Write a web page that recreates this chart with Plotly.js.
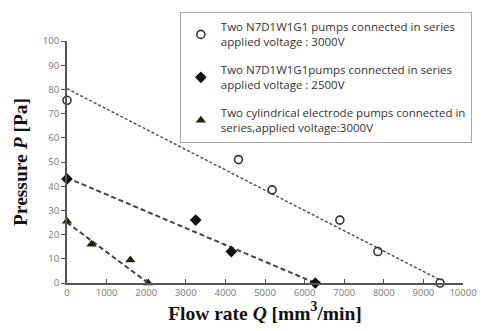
<!DOCTYPE html>
<html>
<head>
<meta charset="utf-8">
<script src="https://cdn.plot.ly/plotly-3.0.1.min.js"></script>
<style>html,body{margin:0;padding:0;background:#fff}#chart{width:484px;height:331px}</style>
</head>
<body>
<div id="chart"></div>
<script>
// Series 1: Two N7D1W1G1 pumps, 3000V (open circles)
var flowA = [0, 4330, 5180, 6890, 7850, 9420];
var presA = [75.5, 51, 38.5, 26, 13, 0];
// Series 2: Two N7D1W1G1 pumps, 2500V (diamonds)
var flowB = [0, 3250, 4150, 6270];
var presB = [43, 26, 13, 0];
// Series 3: Two cylindrical electrode pumps, 3000V (triangles)
var flowC = [0, 620, 1600, 2050];
var presC = [25.5, 16, 9.5, 0];
// Trend lines (end points)
var trendAx = [0, 9450], trendAy = [80.3, 1];
var trendBx = [0, 6270], trendBy = [43.5, 0];
var trendCx = [0, 2050], trendCy = [25, 0];

var names = [
  "Two N7D1W1G1 pumps connected in series<br>applied voltage : 3000V",
  "Two N7D1W1G1pumps connected in series<br>applied voltage : 2500V",
  "Two cylindrical electrode pumps connected in<br>series,applied voltage:3000V"
];
var xTicks = [0,1000,2000,3000,4000,5000,6000,7000,8000,9000,10000];
var yTicks = [0,10,20,30,40,50,60,70,80,90,100];

var traces = [
  {x: trendAx, y: trendAy, mode: 'lines', showlegend: false, hoverinfo: 'skip',
   line: {color: '#555', width: 1.5, dash: '3px,2px'}},
  {x: trendBx, y: trendBy, mode: 'lines', showlegend: false, hoverinfo: 'skip',
   line: {color: '#444', width: 2, dash: '5px,3px'}},
  {x: trendCx, y: trendCy, mode: 'lines', showlegend: false, hoverinfo: 'skip',
   line: {color: '#444', width: 2, dash: '5px,3px'}},
  {x: flowA, y: presA, mode: 'markers', name: names[0], legendgroup: 'a',
   marker: {symbol: 'circle-open', size: 8, color: '#333', line: {width: 1.6, color: '#333'}}},
  {x: flowB, y: presB, mode: 'markers', name: names[1], legendgroup: 'b',
   marker: {symbol: 'diamond', size: 9, color: '#111'}},
  {x: flowC, y: presC, mode: 'markers', name: names[2], legendgroup: 'c',
   marker: {symbol: 'triangle-up', size: 9, color: '#22220a'}}
];
traces.forEach(function(t){ t.cliponaxis = false; });

var layout = {
  width: 484, height: 331,
  margin: {l: 67, r: 14, t: 41, b: 48},
  paper_bgcolor: '#fff', plot_bgcolor: '#fff',
  font: {family: 'Open Sans, sans-serif', color: '#333'},
  xaxis: {
    range: [0, 10000], tickvals: xTicks, ticktext: xTicks.map(String),
    showgrid: false, zeroline: false, showline: true, linecolor: '#555', linewidth: 2,
    ticks: 'inside', ticklen: 4, tickcolor: '#555', tickwidth: 1,
    tickfont: {size: 9.5, color: '#777'},
    title: {text: '<b>Flow rate <i>Q</i> [mm<sup>3</sup>/min]</b>', standoff: 4,
            font: {family: 'Liberation Serif, Times New Roman, serif', size: 19.5, color: '#111'}}
  },
  yaxis: {
    range: [0, 100], tickvals: yTicks, ticktext: yTicks.map(String),
    showgrid: false, zeroline: false, showline: true, linecolor: '#555', linewidth: 2,
    ticks: 'outside', ticklen: 4, tickcolor: '#555', tickwidth: 1,
    tickfont: {size: 9.5, color: '#777'},
    title: {text: '<b>Pressure <i>P</i> [Pa]</b>', standoff: 10,
            font: {family: 'Liberation Serif, Times New Roman, serif', size: 19.5, color: '#111'}}
  },
  legend: {
    x: 0.285, y: 1.12, xanchor: 'left', yanchor: 'top',
    bgcolor: '#fff', bordercolor: '#aaa', borderwidth: 1,
    font: {size: 11.5, color: '#333'},
    traceorder: 'grouped', tracegroupgap: 10, itemwidth: 30
  },
  showlegend: true
};

Plotly.newPlot('chart', traces, layout, {displayModeBar: false, staticPlot: true});
</script>
</body>
</html>
